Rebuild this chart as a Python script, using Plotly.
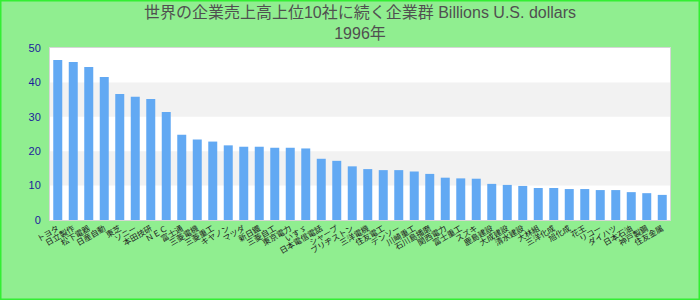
import plotly.graph_objects as go

categories = [
    "トヨタ", "日立製作", "松下電器", "日産自動", "東芝", "ソニー", "本田技研", "ＮＥＣ",
    "富士通", "三菱電機", "三菱重工", "キヤノン", "マツダ", "新日鐵", "三菱自工", "東京電力",
    "いすゞ", "日本電信電話", "シャープ", "ブリヂストン", "三洋電機", "住友電工", "デンソー", "川崎重工",
    "石川島播磨", "関西電力", "富士重工", "スズキ", "鹿島建設", "大成建設", "清水建設", "大林組",
    "三洋化成", "旭化成", "花王", "リコー", "ダイハツ", "日本石油", "神戸製鋼", "住友金属",
]
values = [
    46.5, 45.9, 44.5, 41.6, 36.6, 35.8, 35.2, 31.4,
    24.8, 23.4, 22.8, 21.7, 21.3, 21.3, 21.0, 21.0,
    20.8, 17.8, 17.2, 15.6, 14.8, 14.5, 14.5, 14.1,
    13.4, 12.3, 12.1, 12.0, 10.5, 10.2, 9.9, 9.3,
    9.3, 9.0, 9.0, 8.7, 8.7, 8.1, 7.8, 7.3,
]
title_text = "世界の企業売上高上位10社に続く企業群 Billions U.S. dollars<br>1996年"
y_ticks = [0, 10, 20, 30, 40, 50]
bands = [(10, 20), (30, 40)]

fig = go.Figure(go.Bar(x=categories, y=values, marker_color="#62a9f3",
                       marker_line_width=0))

W, H = 700, 300
ml, mr, mt, mb = 50, 30, 48, 80
pw, ph = W - ml - mr, H - mt - mb

for y0, y1 in bands:
    fig.add_shape(type="rect", xref="paper", yref="y", x0=0, x1=1, y0=y0, y1=y1,
                  fillcolor="#f2f2f2", line_width=0, layer="below")

fig.add_shape(type="rect", xref="paper", yref="paper",
              x0=-ml / pw, x1=1 + mr / pw, y0=-mb / ph, y1=1 + mt / ph,
              line=dict(color="#33ee33", width=3), fillcolor="rgba(0,0,0,0)")

fig.update_layout(
    width=W, height=H,
    margin=dict(l=ml, r=mr, t=mt, b=mb, pad=0),
    paper_bgcolor="#90ee90", plot_bgcolor="#ffffff",
    bargap=0.42,
    showlegend=False,
    font=dict(family="Liberation Sans, Arial, Noto Sans CJK JP"),
    title=dict(text=title_text, x=0.5, xanchor="center", xref="paper",
               y=1 - 18 / H, yanchor="middle", yref="container",
               font=dict(size=16, color="#505050")),
    xaxis=dict(tickangle=-30, tickfont=dict(size=8, color="#222222"),
               showline=True, linecolor="#d6d6d6", linewidth=1, mirror=True,
               showgrid=False, ticks=""),
    yaxis=dict(range=[0, 50], tickvals=y_ticks, tickfont=dict(size=11, color="#1c1c9c"),
               showline=True, linecolor="#d6d6d6", linewidth=1, mirror=True,
               showgrid=False, zeroline=False, ticks="outside", ticklen=6,
               tickcolor="rgba(0,0,0,0)"),
)

fig.write_html("out.html")
